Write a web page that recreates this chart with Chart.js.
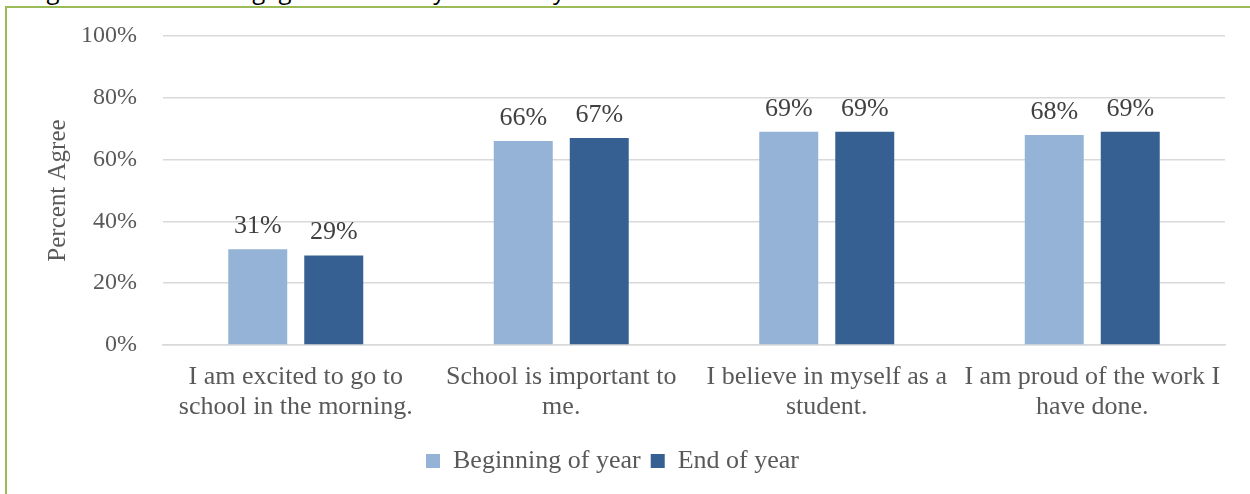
<!DOCTYPE html>
<html lang="en">
<head>
  <meta charset="UTF-8" />
  <title>Student Engagement</title>
  <script src="https://cdn.jsdelivr.net/npm/chart.js"></script>
  <style>
    html, body { margin: 0; padding: 0; background: #fff; overflow: hidden; }
    body { width: 1250px; height: 494px; position: relative; }
    /* caption above the frame, mostly cut off at the top edge */
    .caption {
      position: absolute; left: 28px; top: -27px;
      font: 24px 'Open Sans', 'Liberation Sans', Arial, sans-serif; color: #000;
      white-space: nowrap;
    }
    .frame {
      position: absolute; left: 5px; top: 6px; width: 1300px; height: 600px;
      border: 2px solid #9bbb59;
    }
    #wrap { position: absolute; left: 0; top: 0; width: 1250px; height: 494px; }
  </style>
</head>
<body>
  <div class="caption">Figure 3. Student Engagement Survey Results by Time of Year</div>
  <div class="frame"></div>
  <div id="wrap"><canvas id="chart"></canvas></div>

  <script>
    // chart data
    const categories = [
      ["I am excited to go to", "school in the morning."],
      ["School is important to", "me."],
      ["I believe in myself as a", "student."],
      ["I am proud of the work I", "have done."]
    ];
    const seriesNames = ["Beginning of year", "End of year"];
    const beginningOfYear = [31, 66, 69, 68];
    const endOfYear = [29, 67, 69, 69];
    const yTicks = [0, 20, 40, 60, 80, 100];

    const serif = "'Liberation Serif', 'Times New Roman', serif";

    // draws the "31%" style labels above each bar
    const valueLabels = {
      id: "valueLabels",
      afterDatasetsDraw(chart) {
        const ctx = chart.ctx;
        ctx.save();
        ctx.font = "26px " + serif;
        ctx.fillStyle = "#404040";
        ctx.textAlign = "center";
        ctx.textBaseline = "alphabetic";
        chart.data.datasets.forEach((ds, i) => {
          chart.getDatasetMeta(i).data.forEach((bar, j) => {
            ctx.fillText(ds.data[j] + "%", bar.x, bar.y - 16);
          });
        });
        ctx.restore();
      }
    };

    new Chart(document.getElementById("chart"), {
      type: "bar",
      data: {
        labels: categories,
        datasets: [
          {
            label: seriesNames[0],
            data: beginningOfYear,
            backgroundColor: "#95b3d7",
            categoryPercentage: 0.5725,
            barPercentage: 0.776
          },
          {
            label: seriesNames[1],
            data: endOfYear,
            backgroundColor: "#366092",
            categoryPercentage: 0.5725,
            barPercentage: 0.776
          }
        ]
      },
      options: {
        responsive: true,
        maintainAspectRatio: false,
        animation: false,
        layout: { padding: { top: 36, right: 25, bottom: 10, left: 0 } },
        scales: {
          x: {
            grid: { display: false, drawTicks: false },
            border: { color: "#d9d9d9", width: 1.5 },
            ticks: {
              color: "#595959",
              font: { family: serif, size: 26, lineHeight: 1.15 },
              padding: 17,
              maxRotation: 0,
              autoSkip: false
            },
            afterFit(scale) {
              scale.height = 93;
              scale.paddingLeft = 0;
              scale.paddingRight = 0;
            }
          },
          y: {
            min: 0,
            max: 100,
            afterBuildTicks(scale) { scale.ticks = yTicks.map(v => ({ value: v })); },
            grid: { color: "#d9d9d9", lineWidth: 1.5, drawTicks: false },
            border: { display: false },
            ticks: {
              color: "#595959",
              font: { family: serif, size: 24 },
              padding: 26,
              callback: v => v + "%"
            },
            title: {
              display: true,
              text: "Percent Agree",
              color: "#595959",
              font: { family: serif, size: 25 },
              padding: { top: 43, bottom: 0 }
            },
            afterFit(scale) {
              scale.width = 163;
              scale.paddingTop = 0;
              scale.paddingBottom = 0;
            }
          }
        },
        plugins: {
          legend: {
            position: "bottom",
            labels: {
              color: "#595959",
              font: { family: serif, size: 26 },
              boxWidth: 14,
              boxHeight: 14,
              padding: 10
            }
          },
          tooltip: { enabled: false }
        }
      },
      plugins: [valueLabels]
    });
  </script>
</body>
</html>
